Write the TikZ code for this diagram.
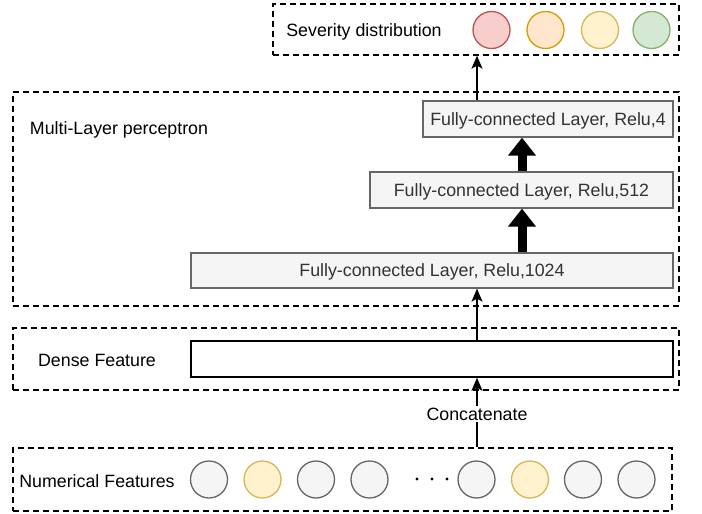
\documentclass[tikz,border=0pt]{standalone}
\usepackage{fontspec}
\setmainfont{Liberation Sans}
\usetikzlibrary{arrows.meta}
\definecolor{gfill}{HTML}{F5F5F5}
\definecolor{gline}{HTML}{666666}
\definecolor{gtext}{HTML}{333333}
\definecolor{rfill}{HTML}{F8CECC}
\definecolor{rline}{HTML}{B85450}
\definecolor{ofill}{HTML}{FFE6CC}
\definecolor{oline}{HTML}{D79B00}
\definecolor{yfill}{HTML}{FFF2CC}
\definecolor{yline}{HTML}{D6B656}
\definecolor{gnfill}{HTML}{D5E8D4}
\definecolor{gnline}{HTML}{82B366}
\tikzset{
  txt/.style={text height=13pt, text depth=1pt},
  grp/.style={draw=black, line width=1.3pt, dash pattern=on 6pt off 4pt, rectangle, inner sep=0pt},
  fc/.style={draw=gline, fill=gfill, line width=1.3pt, rectangle, inner sep=0pt, text=gtext, txt},
  dense/.style={draw=black, fill=white, line width=1.5pt, rectangle, inner sep=0pt},
  lbl/.style={inner sep=1pt, text=black, txt},
  dot/.style={circle, draw, line width=1.3pt, minimum size=37pt, inner sep=0pt},
  thin arrow/.style={line width=1.3pt, -{Stealth[width=11pt,length=13pt,inset=3pt]}},
  thick arrow/.style={line width=9pt, -{Triangle[width=27pt,length=18pt]}},
}
\begin{document}
\begin{tikzpicture}[x=1pt,y=-1pt,font=\fontsize{17.8}{20}\selectfont]
\useasboundingbox (0,0) rectangle (702,514);
% groups
\node[grp, minimum width=406pt, minimum height=51pt] (sev) at (476,29.5) {};
\node[grp, minimum width=666pt, minimum height=214pt] (mlp) at (346,199) {};
\node[grp, minimum width=666pt, minimum height=62pt] (dg) at (346,359) {};
\node[grp, minimum width=659pt, minimum height=63pt] (ng) at (342.5,479.5) {};
% labels
\node[lbl] (sevt) at (364,30) {Severity distribution};
\node[lbl] (mlpt) at (119,128) {Multi-Layer perceptron};
\node[lbl] (dgt) at (97,360) {Dense Feature};
\node[lbl] (ngt) at (97,481) {Numerical Features};
% severity circles
\node[dot, draw=rline, fill=rfill] (s1) at (491.5,30) {};
\node[dot, draw=oline, fill=ofill] (s2) at (545.5,30) {};
\node[dot, draw=yline, fill=yfill] (s3) at (600,30) {};
\node[dot, draw=gnline, fill=gnfill] (s4) at (651.5,30) {};
% layers
\node[fc, minimum width=250pt, minimum height=36pt] (fc4) at (548,119) {Fully-connected Layer, Relu,4};
\node[fc, minimum width=303pt, minimum height=36pt] (fc512) at (521.5,190) {Fully-connected Layer, Relu,512};
\node[fc, minimum width=482pt, minimum height=35pt] (fc1024) at (432,270.5) {Fully-connected Layer, Relu,1024};
\node[dense, minimum width=482pt, minimum height=36pt] (dr) at (432,359) {};
% numerical circles
\node[dot, draw=gline, fill=gfill] (n1) at (209,479.5) {};
\node[dot, draw=yline, fill=yfill] (n2) at (262.5,479.5) {};
\node[dot, draw=gline, fill=gfill] (n3) at (316,479.5) {};
\node[dot, draw=gline, fill=gfill] (n4) at (369.5,479.5) {};
\node[dot, draw=gline, fill=gfill] (n5) at (476.5,479.5) {};
\node[dot, draw=yline, fill=yfill] (n6) at (530,479.5) {};
\node[dot, draw=gline, fill=gfill] (n7) at (583,479.5) {};
\node[dot, draw=gline, fill=gfill] (n8) at (636.5,479.5) {};
\fill (417,479) circle (1.7pt) (432,479) circle (1.7pt) (447,479) circle (1.7pt);
% connectors
\coordinate (ax) at (477,0);
\coordinate (tx) at (522,0);
\draw[thin arrow] (fc4.north -| ax) -- (sev.south -| ax);
\draw[thick arrow] (fc512.north -| tx) -- (fc4.south -| tx);
\draw[thick arrow] (fc1024.north -| tx) -- (fc512.south -| tx);
\draw[thin arrow] (dr.north -| ax) -- (fc1024.south -| ax);
\draw[thin arrow] (ng.north -| ax) -- (dr.south -| ax);
\node[lbl, fill=white] (cat) at (477,414) {Concatenate};
\end{tikzpicture}
\end{document}
